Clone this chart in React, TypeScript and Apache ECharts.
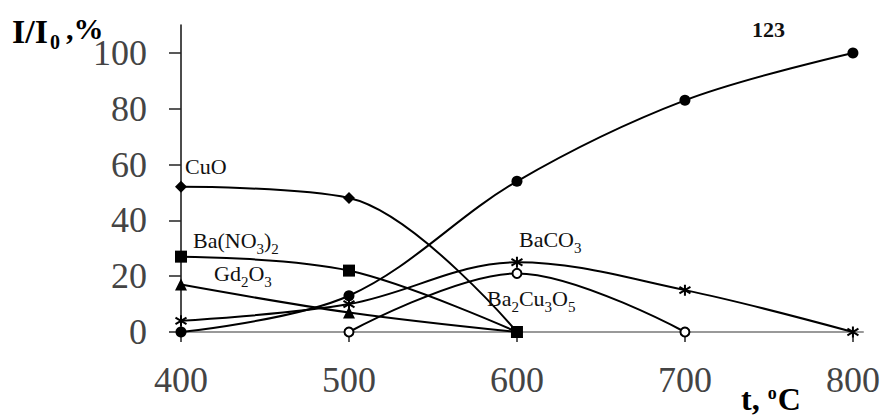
import React, { useEffect, useRef } from "react";
import * as echarts from "echarts";

const temps = [400, 500, 600, 700, 800];
const xTicks = [400, 500, 600, 700, 800];
const yTicks = [0, 20, 40, 60, 80, 100];

const phase123 = [0, 13, 54, 83, 100];
const cuo = [52, 48, 0, null, null];
const baNO3 = [27, 22, 0, null, null];
const gd2o3 = [17, 7, 0, null, null];
const baco3 = [4, 10, 25, 15, 0];
const ba2cu3o5 = [null, 0, 21, 0, null];

const FONT = "'Liberation Serif', 'Times New Roman', serif";
const ASTERISK = "path://M0,-10L0,10M-9,-6L9,6M-9,6L9,-6";

function pairs(vals: (number | null)[]) {
  const out: [number, number][] = [];
  vals.forEach((v, i) => {
    if (v !== null) out.push([temps[i], v]);
  });
  return out;
}

function annot(left: number, top: number, text: string) {
  return {
    type: "text",
    left,
    top,
    z: 100,
    style: {
      text,
      fill: "#111",
      rich: {
        n: { fontFamily: FONT, fontSize: 22, lineHeight: 24, color: "#111" },
        s: { fontFamily: FONT, fontSize: 15, lineHeight: 15, padding: [16, 0, 0, 0], color: "#111" },
      },
    },
  };
}

export default function App() {
  const ref = useRef<HTMLDivElement>(null);
  useEffect(() => {
    document.body.style.margin = "0";
    const chart = echarts.init(ref.current!, undefined, { renderer: "svg" });
    const lineBase = { type: "line", smooth: 0.35, lineStyle: { color: "#000", width: 2 }, z: 3 };
    chart.setOption({
      animation: false,
      backgroundColor: "#fff",
      grid: { left: 181, right: 27, top: 25, bottom: 85, containLabel: false, outerBoundsMode: "none" },
      xAxis: {
        type: "value",
        min: 400,
        max: 806,
        interval: 100,
        axisLine: { show: true, lineStyle: { color: "#999", width: 2 } },
        axisTick: { show: true, length: 10, inside: false, lineStyle: { color: "#222", width: 1.5 }, customValues: xTicks },
        axisLabel: { margin: 30, fontFamily: FONT, fontSize: 36, color: "#444", customValues: xTicks },
        splitLine: { show: false },
      },
      yAxis: {
        type: "value",
        min: 0,
        max: 110,
        interval: 20,
        axisLine: { show: true, lineStyle: { color: "#111", width: 1.5 } },
        axisTick: { show: true, length: 12, inside: false, lineStyle: { color: "#222", width: 1.5 }, customValues: yTicks },
        axisLabel: { margin: 34, fontFamily: FONT, fontSize: 36, color: "#444", customValues: yTicks },
        splitLine: { show: false },
      },
      series: [
        { ...lineBase, name: "123", data: pairs(phase123), symbol: "circle", symbolSize: 11, itemStyle: { color: "#000" } },
        { ...lineBase, name: "CuO", data: pairs(cuo), symbol: "diamond", symbolSize: 12, itemStyle: { color: "#000" } },
        { ...lineBase, name: "Ba(NO3)2", data: pairs(baNO3), symbol: "rect", symbolSize: 12, itemStyle: { color: "#000" } },
        { ...lineBase, name: "Gd2O3", data: pairs(gd2o3), symbol: "triangle", symbolSize: 12, itemStyle: { color: "#000" } },
        {
          ...lineBase,
          name: "BaCO3",
          data: pairs(baco3),
          symbol: ASTERISK,
          symbolSize: 11,
          itemStyle: { color: "#000", borderColor: "#000", borderWidth: 2 },
        },
        {
          ...lineBase,
          name: "Ba2Cu3O5",
          data: pairs(ba2cu3o5),
          symbol: "emptyCircle",
          symbolSize: 9,
          itemStyle: { color: "#000", borderColor: "#000", borderWidth: 1.5 },
        },
      ],
      graphic: [
        {
          type: "text",
          left: 12,
          top: 10,
          z: 100,
          style: {
            text: "{b|I/I}{s|0}{c|,%}",
            rich: {
              b: { fontFamily: FONT, fontWeight: "bold", fontSize: 34, lineHeight: 36, color: "#111" },
              s: { fontFamily: FONT, fontWeight: "bold", fontSize: 20, lineHeight: 20, padding: [22, 6, 0, 2], color: "#111" },
              c: { fontFamily: FONT, fontWeight: "bold", fontSize: 30, lineHeight: 30, padding: [0, 0, 6, 0], color: "#111" },
            },
          },
        },
        {
          type: "text",
          left: 752,
          top: 18,
          z: 100,
          style: { text: "123", fontFamily: FONT, fontWeight: "bold", fontSize: 22, fill: "#111" },
        },
        {
          type: "text",
          left: 741,
          top: 383,
          z: 100,
          style: {
            text: "{b|t, }{o|o}{b|C}",
            rich: {
              b: { fontFamily: FONT, fontWeight: "bold", fontSize: 32, lineHeight: 32, color: "#111" },
              o: { fontFamily: FONT, fontWeight: "bold", fontSize: 18, lineHeight: 18, padding: [0, 1, 12, 0], color: "#111" },
            },
          },
        },
        annot(185, 155, "{n|CuO}"),
        annot(193, 225, "{n|Ba(NO}{s|3}{n|)}{s|2}"),
        annot(214, 258, "{n|Gd}{s|2}{n|O}{s|3}"),
        annot(519, 224, "{n|BaCO}{s|3}"),
        annot(487, 283, "{n|Ba}{s|2}{n|Cu}{s|3}{n|O}{s|5}"),
      ],
    });
    return () => chart.dispose();
  }, []);
  return <div ref={ref} style={{ width: 890, height: 417 }} />;
}
